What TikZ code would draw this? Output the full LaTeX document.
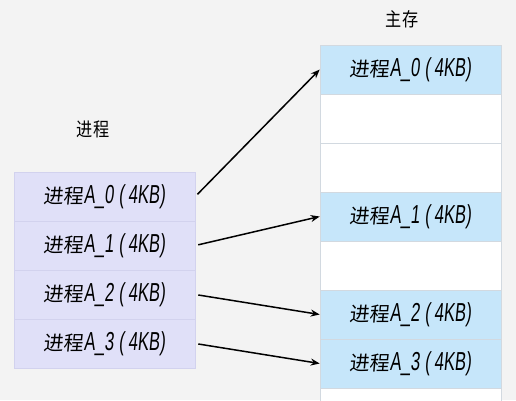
\documentclass[tikz,border=0pt]{standalone}
\usepackage{fontspec}
\setmainfont{Liberation Sans}[FakeSlant=0.1, FakeStretch=0.64]
\newfontfamily\cjk{Noto Sans CJK SC}[FakeSlant=0.1]
\newfontfamily\cjktitle{Noto Sans CJK SC}[FakeStretch=0.85]
\newcommand\pagelabel[1]{{\fontsize{20}{24}\selectfont\cjk 进程}A\_#1\hspace{5pt}(\hspace{4pt}4KB)}
\usetikzlibrary{positioning,arrows.meta}
\definecolor{bgcol}{HTML}{F3F3F3}
\definecolor{proccol}{HTML}{E0E0F8}
\definecolor{procline}{HTML}{D2D2EE}
\definecolor{memcol}{HTML}{C6E6FA}
\definecolor{memline}{HTML}{D2D9E0}
\begin{document}
\begin{tikzpicture}[x=1pt, y=-1pt, node distance=49pt, thick,
		page node/.style={rectangle, draw=procline, fill=proccol, line width=0.6pt,
			minimum width=181pt, minimum height=49pt, inner sep=0pt, font=\fontsize{26}{30}\selectfont},
		used node/.style={page node, draw=memline, fill=memcol},
		free node/.style={page node, draw=memline, fill=white},
		title node/.style={font=\fontsize{19}{22}\selectfont\cjktitle}]
		
		\fill[bgcol] (0,0) rectangle (516,400);
		\clip (0,0) rectangle (516,400);
		
		\node[title node] (proc) at (93,129) {进程};
		\node[page node] (p0) at (104.5,196.5) {\pagelabel{0}};
		\node[page node] (p1) [below of=p0] {\pagelabel{1}};
		\node[page node] (p2) [below of=p1] {\pagelabel{2}};
		\node[page node] (p3) [below of=p2] {\pagelabel{3}};
		
		\node[title node] (mem) at (402,19) {主存};
		\node[used node] (m0) at (410.5,69.5) {\pagelabel{0}};
		\node[free node] (m1) [below of=m0] {};
		\node[free node] (m2) [below of=m1] {};
		\node[used node] (m3) [below of=m2] {\pagelabel{1}};
		\node[free node] (m4) [below of=m3] {};
		\node[used node] (m5) [below of=m4] {\pagelabel{2}};
		\node[used node] (m6) [below of=m5] {\pagelabel{3}};
		\node[free node] (m7) [below of=m6] {};
		
		\path[-{Stealth[length=9pt,width=7pt]}, line width=1.5pt, shorten <=3pt]
		(p0.east) edge (m0.west)
		(p1.east) edge (m3.west)
		(p2.east) edge (m5.west)
		(p3.east) edge (m6.west);
		
	\end{tikzpicture}
\end{document}
